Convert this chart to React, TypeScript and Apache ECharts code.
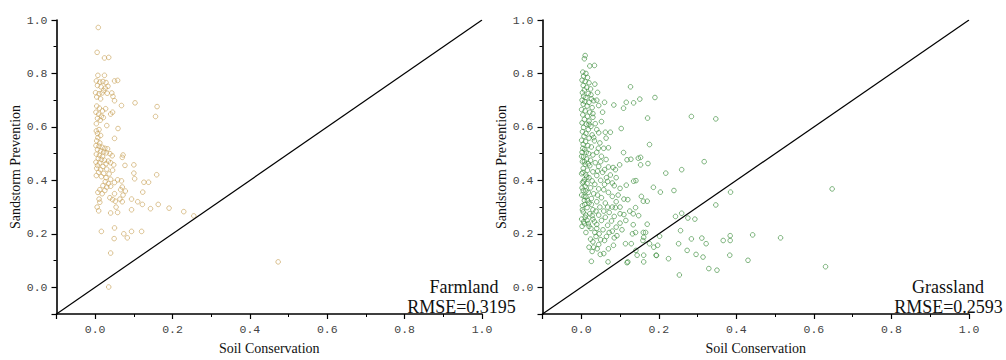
import React, { useEffect, useRef } from "react";
import * as echarts from "echarts";

const farmland: [number, number][] = [
  [0.008, 0.972], [0.005, 0.879], [0.024, 0.858], [0.035, 0.86],
  [0.007, 0.793], [0.024, 0.793],
  [0.003, 0.772], [0.012, 0.768], [0.02, 0.77], [0.028, 0.766], [0.05, 0.772], [0.058, 0.774],
  [0.006, 0.755], [0.015, 0.75], [0.026, 0.745], [0.033, 0.752],
  [0.001, 0.728], [0.01, 0.724], [0.018, 0.727], [0.031, 0.726], [0.043, 0.727], [0.046, 0.714],
  [0.004, 0.712], [0.014, 0.705], [0.022, 0.736], [0.05, 0.698], [0.068, 0.68], [0.103, 0.69],
  [0.16, 0.676], [0.156, 0.639],
  [0.004, 0.678], [0.011, 0.67], [0.019, 0.66], [0.027, 0.668], [0.002, 0.655], [0.009, 0.648],
  [0.016, 0.64], [0.006, 0.632], [0.013, 0.625], [0.021, 0.635], [0.045, 0.655], [0.04, 0.648],
  [0.003, 0.612], [0.03, 0.605], [0.059, 0.594], [0.01, 0.59], [0.05, 0.557],
  [0.006, 0.575], [0.014, 0.568], [0.003, 0.585], [0.007, 0.56], [0.004, 0.548], [0.012, 0.54],
  [0.002, 0.53], [0.01, 0.528], [0.018, 0.524], [0.025, 0.52], [0.032, 0.518], [0.006, 0.515],
  [0.014, 0.51], [0.022, 0.506], [0.029, 0.503], [0.038, 0.5], [0.003, 0.498], [0.011, 0.494],
  [0.019, 0.49], [0.044, 0.492], [0.072, 0.495], [0.07, 0.486], [0.008, 0.482], [0.016, 0.478],
  [0.024, 0.475], [0.034, 0.472], [0.002, 0.468], [0.012, 0.465], [0.028, 0.462], [0.04, 0.466],
  [0.006, 0.456], [0.02, 0.452], [0.048, 0.458], [0.077, 0.456], [0.1, 0.458], [0.004, 0.445],
  [0.014, 0.44], [0.03, 0.442], [0.045, 0.438], [0.009, 0.43], [0.022, 0.426], [0.036, 0.424],
  [0.1, 0.427], [0.102, 0.406], [0.159, 0.421], [0.003, 0.418], [0.016, 0.414], [0.028, 0.41],
  [0.04, 0.404], [0.058, 0.402], [0.068, 0.398], [0.126, 0.393], [0.138, 0.393], [0.026, 0.395],
  [0.034, 0.388], [0.05, 0.392], [0.02, 0.38], [0.03, 0.375], [0.04, 0.378], [0.07, 0.375],
  [0.012, 0.365], [0.025, 0.362], [0.066, 0.365], [0.078, 0.36], [0.123, 0.356], [0.007, 0.355],
  [0.018, 0.35], [0.05, 0.35], [0.072, 0.345], [0.01, 0.33], [0.038, 0.335], [0.045, 0.328],
  [0.052, 0.322], [0.064, 0.33], [0.07, 0.32], [0.094, 0.33], [0.11, 0.32], [0.122, 0.31],
  [0.163, 0.31], [0.143, 0.294], [0.191, 0.296], [0.229, 0.283], [0.255, 0.267], [0.009, 0.286],
  [0.005, 0.3], [0.012, 0.318], [0.04, 0.278], [0.058, 0.28], [0.054, 0.3], [0.094, 0.29],
  [0.016, 0.209], [0.05, 0.222], [0.049, 0.182], [0.074, 0.2], [0.083, 0.185], [0.094, 0.209],
  [0.12, 0.209], [0.04, 0.128], [0.035, 0.001], [0.473, 0.095]
];

const grassland: [number, number][] = [
  [0.01, 0.867], [0.008, 0.855], [0.022, 0.828], [0.034, 0.83], [0.004, 0.805], [0.012, 0.8],
  [0.006, 0.79], [0.016, 0.785], [0.002, 0.775], [0.01, 0.77], [0.02, 0.765], [0.005, 0.755],
  [0.014, 0.748], [0.024, 0.742], [0.008, 0.738], [0.003, 0.728], [0.018, 0.725], [0.042, 0.729],
  [0.006, 0.715], [0.012, 0.71], [0.026, 0.705], [0.002, 0.7], [0.009, 0.695], [0.02, 0.692],
  [0.032, 0.698], [0.04, 0.7], [0.06, 0.692], [0.084, 0.682], [0.109, 0.67], [0.116, 0.692],
  [0.135, 0.69], [0.151, 0.704], [0.19, 0.71], [0.127, 0.75], [0.005, 0.685], [0.015, 0.678],
  [0.028, 0.672], [0.001, 0.665], [0.01, 0.66], [0.022, 0.655], [0.055, 0.655], [0.004, 0.645],
  [0.016, 0.64], [0.03, 0.636], [0.008, 0.628], [0.02, 0.622], [0.002, 0.615], [0.013, 0.61],
  [0.036, 0.612], [0.025, 0.602], [0.006, 0.598], [0.103, 0.594], [0.171, 0.633], [0.284, 0.639],
  [0.347, 0.63], [0.018, 0.59], [0.003, 0.582], [0.012, 0.576], [0.045, 0.578], [0.062, 0.58],
  [0.075, 0.58], [0.028, 0.57], [0.007, 0.565], [0.02, 0.558], [0.064, 0.558], [0.001, 0.55],
  [0.011, 0.545], [0.034, 0.548], [0.048, 0.54], [0.005, 0.535], [0.017, 0.53], [0.176, 0.534],
  [0.026, 0.525], [0.058, 0.52], [0.07, 0.522], [0.009, 0.515], [0.002, 0.505], [0.019, 0.5],
  [0.04, 0.505], [0.109, 0.504], [0.03, 0.495], [0.052, 0.49], [0.006, 0.488], [0.014, 0.48],
  [0.024, 0.475], [0.064, 0.478], [0.118, 0.477], [0.128, 0.479], [0.147, 0.483], [0.153, 0.486],
  [0.172, 0.463], [0.153, 0.458], [0.099, 0.458], [0.317, 0.47], [0.003, 0.47], [0.036, 0.466],
  [0.01, 0.46], [0.022, 0.455], [0.045, 0.452], [0.07, 0.45], [0.082, 0.448], [0.088, 0.44],
  [0.259, 0.44], [0.218, 0.427], [0.005, 0.445], [0.016, 0.438], [0.03, 0.432], [0.055, 0.43],
  [0.001, 0.425], [0.012, 0.42], [0.04, 0.418], [0.075, 0.42], [0.09, 0.41], [0.02, 0.41],
  [0.008, 0.402], [0.028, 0.398], [0.05, 0.4], [0.068, 0.396], [0.135, 0.397], [0.141, 0.399],
  [0.116, 0.382], [0.186, 0.374], [0.239, 0.362], [0.204, 0.356], [0.385, 0.356], [0.003, 0.392],
  [0.015, 0.388], [0.035, 0.385], [0.06, 0.385], [0.085, 0.38], [0.01, 0.378], [0.024, 0.372],
  [0.045, 0.368], [0.005, 0.362], [0.018, 0.355], [0.032, 0.35], [0.07, 0.355], [0.095, 0.345],
  [0.11, 0.33], [0.12, 0.328], [0.155, 0.34], [0.16, 0.322], [0.17, 0.322], [0.347, 0.308],
  [0.001, 0.345], [0.012, 0.338], [0.026, 0.332], [0.052, 0.335], [0.08, 0.34], [0.008, 0.325],
  [0.04, 0.32], [0.062, 0.315], [0.02, 0.315], [0.003, 0.305], [0.048, 0.3], [0.08, 0.3],
  [0.088, 0.298], [0.14, 0.298], [0.015, 0.298], [0.03, 0.29], [0.058, 0.285], [0.072, 0.28],
  [0.1, 0.275], [0.11, 0.272], [0.134, 0.275], [0.148, 0.268], [0.005, 0.282], [0.022, 0.275],
  [0.045, 0.27], [0.062, 0.262], [0.085, 0.265], [0.01, 0.262], [0.03, 0.255], [0.052, 0.25],
  [0.078, 0.248], [0.243, 0.265], [0.259, 0.277], [0.275, 0.259], [0.293, 0.255], [0.006, 0.245],
  [0.018, 0.238], [0.04, 0.235], [0.068, 0.232], [0.09, 0.225], [0.134, 0.234], [0.17, 0.236],
  [0.002, 0.228], [0.025, 0.22], [0.056, 0.215], [0.08, 0.21], [0.256, 0.212], [0.035, 0.205],
  [0.012, 0.205], [0.092, 0.193], [0.14, 0.205], [0.132, 0.2], [0.16, 0.205], [0.166, 0.205],
  [0.161, 0.187], [0.202, 0.191], [0.085, 0.185], [0.038, 0.19], [0.06, 0.175], [0.045, 0.16],
  [0.083, 0.157], [0.07, 0.144], [0.058, 0.126], [0.049, 0.123], [0.041, 0.144], [0.032, 0.15],
  [0.028, 0.134], [0.02, 0.15], [0.114, 0.163], [0.129, 0.163], [0.141, 0.138], [0.144, 0.12],
  [0.159, 0.175], [0.176, 0.163], [0.187, 0.15], [0.197, 0.157], [0.161, 0.12], [0.193, 0.12],
  [0.225, 0.107], [0.12, 0.095], [0.069, 0.095], [0.026, 0.097], [0.161, 0.095], [0.118, 0.092],
  [0.194, 0.119], [0.284, 0.181], [0.311, 0.184], [0.322, 0.163], [0.366, 0.175], [0.384, 0.193],
  [0.384, 0.175], [0.442, 0.196], [0.251, 0.163], [0.273, 0.138], [0.296, 0.123], [0.314, 0.113],
  [0.383, 0.12], [0.329, 0.07], [0.35, 0.064], [0.253, 0.046], [0.43, 0.101], [0.647, 0.368],
  [0.514, 0.185], [0.63, 0.077],
  [0.004, 0.52], [0.013, 0.505], [0.001, 0.49], [0.008, 0.47], [0.018, 0.462], [0.004, 0.43],
  [0.014, 0.412], [0.006, 0.395], [0.002, 0.372], [0.012, 0.36], [0.007, 0.34], [0.016, 0.325],
  [0.009, 0.31], [0.026, 0.31], [0.003, 0.29], [0.012, 0.27], [0.028, 0.268], [0.001, 0.255],
  [0.015, 0.25], [0.034, 0.245], [0.008, 0.238], [0.02, 0.228], [0.04, 0.22], [0.046, 0.2],
  [0.024, 0.18], [0.05, 0.178], [0.03, 0.17], [0.065, 0.19], [0.072, 0.205], [0.1, 0.24],
  [0.105, 0.215], [0.115, 0.25], [0.125, 0.285], [0.032, 0.56], [0.044, 0.52], [0.05, 0.47],
  [0.06, 0.44], [0.042, 0.435], [0.065, 0.41], [0.08, 0.39], [0.1, 0.37], [0.058, 0.365],
  [0.042, 0.345], [0.09, 0.32], [0.1, 0.3], [0.068, 0.3], [0.038, 0.285], [0.052, 0.62],
  [0.04, 0.59], [0.02, 0.61], [0.03, 0.65], [0.045, 0.68], [0.025, 0.72], [0.035, 0.76]
];

const identityLine: [number, number][] = [[-0.1, -0.1], [1.0, 1.0]];
const axisMin = -0.1;
const axisMax = 1.0;
const panelNames = ["Farmland", "Grassland"];
const rmseValues = ["0.3195", "0.2593"];
const xAxisName = "Soil Conservation";
const yAxisName = "Sandstorm Prevention";

const farmColor = "#c9a45e";
const grassColor = "#3e8f3e";

export default function App() {
  const ref = useRef<HTMLDivElement>(null);

  useEffect(() => {
    if (!ref.current) return;
    const chart = echarts.init(ref.current, undefined, { renderer: "svg" });

    const grids = [
      { left: 56.5, top: 20, width: 425.5, height: 298 },
      { left: 542.5, top: 20, width: 426.5, height: 298 }
    ];

    const labelFont = {
      fontFamily: "Liberation Mono",
      fontSize: 11.5,
      color: "#444"
    };
    const nameFont = {
      fontFamily: "Liberation Serif",
      fontSize: 14,
      color: "#111"
    };
    const fmt = (v: number) => (v < -0.05 ? "" : v.toFixed(1));

    const mainX = (gi: number) => ({
      type: "value",
      gridIndex: gi,
      min: axisMin,
      max: axisMax,
      splitNumber: 5,
      minInterval: 0.2,
      maxInterval: 0.2,
      position: "bottom",
      name: xAxisName,
      nameLocation: "middle",
      nameGap: 27,
      nameTextStyle: nameFont,
      axisLine: { show: true, onZero: false, lineStyle: { color: "#000", width: 1.6 } },
      axisTick: { show: true, length: 5, lineStyle: { color: "#000", width: 1.2 } },
      axisLabel: { ...labelFont, margin: 9, formatter: fmt, showMinLabel: true, showMaxLabel: true },
      splitLine: { show: false }
    });
    const minorX = (gi: number) => ({
      type: "value",
      gridIndex: gi,
      min: axisMin,
      max: axisMax,
      interval: 0.1,
      position: "bottom",
      axisLine: { show: false, onZero: false },
      axisTick: { show: true, length: 3, lineStyle: { color: "#000", width: 1 } },
      axisLabel: { show: false },
      splitLine: { show: false }
    });
    const mainY = (gi: number) => ({
      type: "value",
      gridIndex: gi,
      min: axisMin,
      max: axisMax,
      splitNumber: 5,
      minInterval: 0.2,
      maxInterval: 0.2,
      position: "left",
      name: yAxisName,
      nameLocation: "middle",
      nameGap: 33,
      nameTextStyle: nameFont,
      axisLine: { show: true, onZero: false, lineStyle: { color: "#000", width: 1.6 } },
      axisTick: { show: true, length: 5, lineStyle: { color: "#000", width: 1.2 } },
      axisLabel: { ...labelFont, margin: 9, formatter: fmt, showMinLabel: true, showMaxLabel: true },
      splitLine: { show: false }
    });
    const minorY = (gi: number) => ({
      type: "value",
      gridIndex: gi,
      min: axisMin,
      max: axisMax,
      interval: 0.1,
      position: "left",
      axisLine: { show: false, onZero: false },
      axisTick: { show: true, length: 3, lineStyle: { color: "#000", width: 1 } },
      axisLabel: { show: false },
      splitLine: { show: false }
    });

    const scatter = (idx: number, data: [number, number][], color: string) => ({
      type: "scatter",
      xAxisIndex: idx,
      yAxisIndex: idx,
      data,
      symbol: "circle",
      symbolSize: 4.6,
      itemStyle: { color: "rgba(255,255,255,0)", borderColor: color, borderWidth: 0.8, opacity: 0.85 },
      silent: true,
      z: 3
    });
    const diag = (idx: number) => ({
      type: "line",
      xAxisIndex: idx,
      yAxisIndex: idx,
      data: identityLine,
      symbol: "none",
      lineStyle: { color: "#000", width: 1.2 },
      silent: true,
      z: 4
    });

    const textStyle = (text: string, x: number, y: number) => ({
      type: "text",
      x,
      y,
      style: {
        text,
        fontFamily: "Liberation Serif",
        fontSize: 18,
        fill: "#111",
        textAlign: "center",
        textVerticalAlign: "middle"
      },
      z: 10
    });

    chart.setOption({
      animation: false,
      backgroundColor: "#fff",
      grid: grids,
      xAxis: [mainX(0), mainX(1), minorX(0), minorX(1)],
      yAxis: [mainY(0), mainY(1), minorY(0), minorY(1)],
      series: [
        scatter(0, farmland, farmColor),
        scatter(1, grassland, grassColor),
        diag(0),
        diag(1)
      ],
      graphic: [
        textStyle(panelNames[0], 464, 287),
        textStyle("RMSE=" + rmseValues[0], 461.5, 306.5),
        textStyle(panelNames[1], 948, 287),
        textStyle("RMSE=" + rmseValues[1], 948.5, 306.5)
      ]
    });

    return () => chart.dispose();
  }, []);

  return (
    <div
      ref={ref}
      style={{ position: "fixed", left: 0, top: 0, width: 1006, height: 360, background: "#fff" }}
    />
  );
}
